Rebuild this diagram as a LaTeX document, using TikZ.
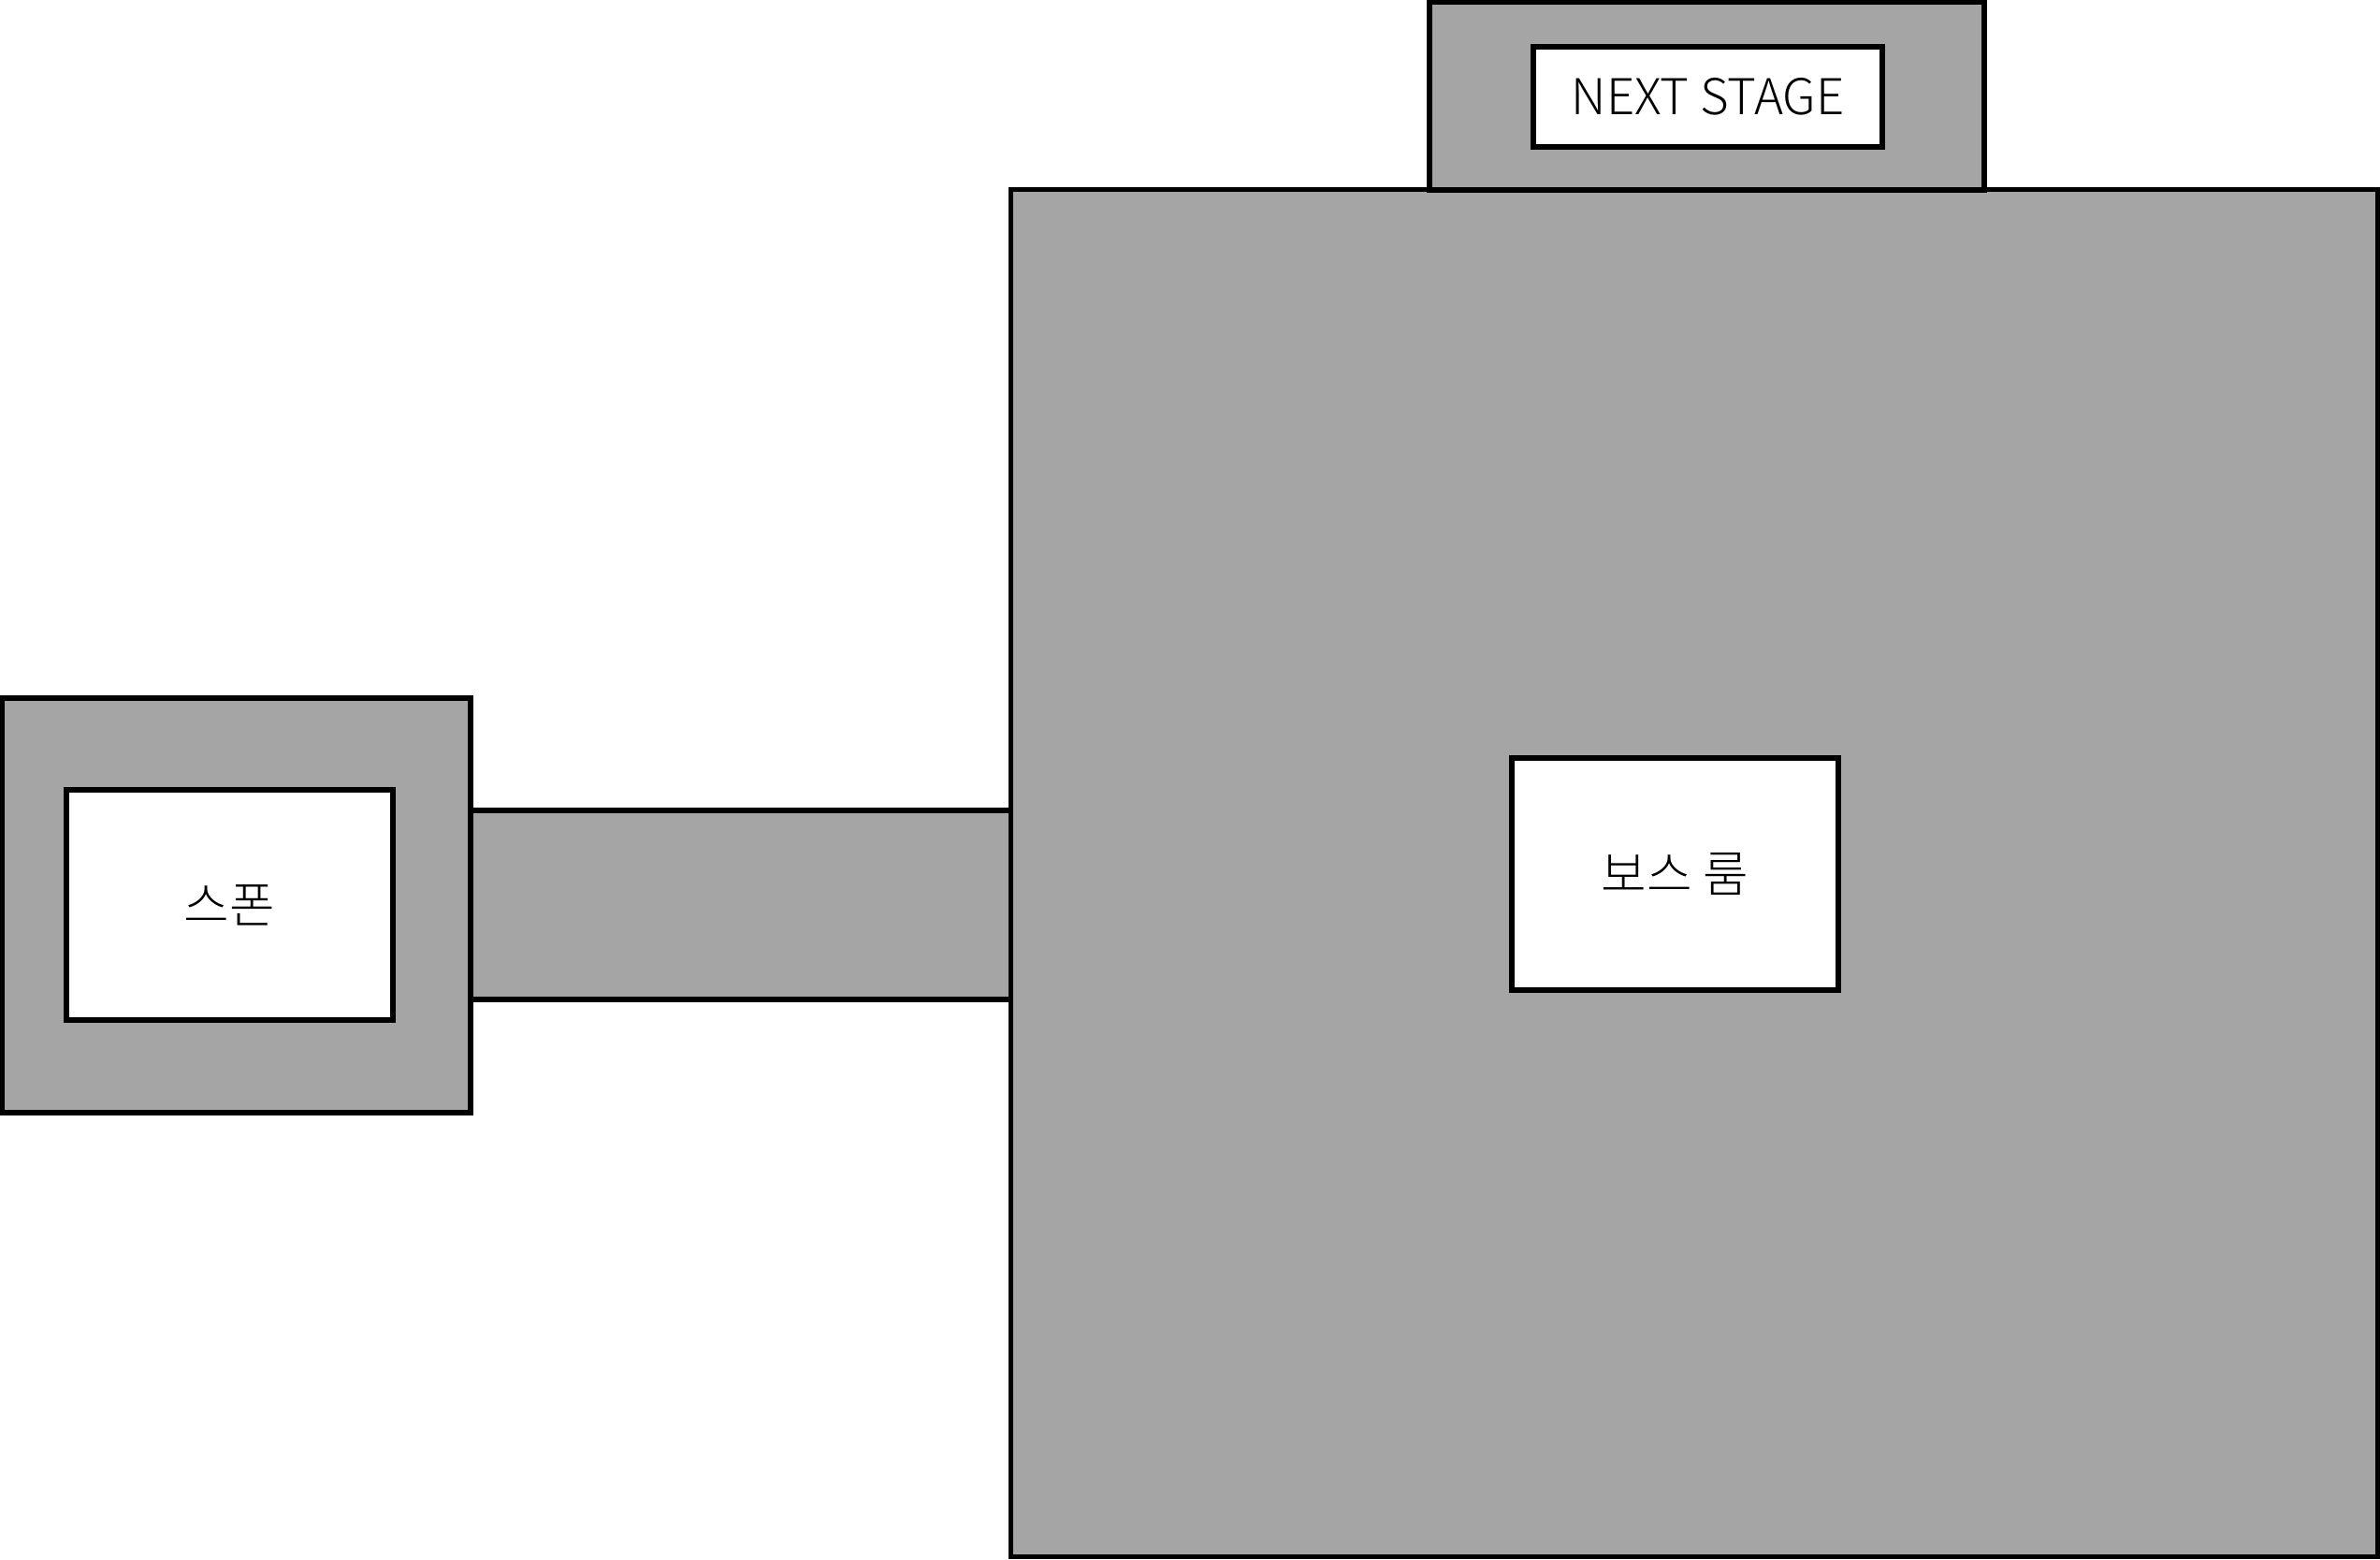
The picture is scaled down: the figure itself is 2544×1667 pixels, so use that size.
\documentclass[tikz,border=0pt]{standalone}
\usepackage{fontspec}
\setmainfont{Noto Sans CJK KR}[UprightFont={* Light}]
\usetikzlibrary{positioning}
\definecolor{roomgray}{RGB}{165,165,165}

\begin{document}
\begin{tikzpicture}[x=0.01cm,y=-0.01cm,
    room/.style={draw,line width=1.6pt,fill=roomgray,inner sep=0pt},
    label box/.style={draw,line width=1.6pt,fill=white,inner sep=0pt,font=\fontsize{15}{18}\selectfont}]
    \useasboundingbox (0,0) rectangle (2544,1667);
    % corridor between spawn and boss room
    \node[room,minimum width=5.78cm,minimum height=2.02cm] (hall) at (792,967) {};
    % spawn area
    \node[room,minimum width=5.01cm,minimum height=4.43cm] (spawn) at (252.5,967.5) {};
    \node[label box,minimum width=3.49cm,minimum height=2.46cm] (spawnroom) at (245.5,967) {스폰};
    % boss area
    \node[room,minimum width=14.60cm,minimum height=14.60cm] (boss) at (1811,933) {};
    \node[label box,minimum width=3.49cm,minimum height=2.48cm] (bossroom) at (1790.5,934) {보스 룸};
    % exit on top
    \node[room,minimum width=5.93cm,minimum height=2.01cm] (nextgate) at (1824.5,102.5) {};
    \node[label box,minimum width=3.73cm,minimum height=1.07cm] (nextstage) at (1825.5,103.5) {NEXT STAGE};
\end{tikzpicture}
\end{document}
